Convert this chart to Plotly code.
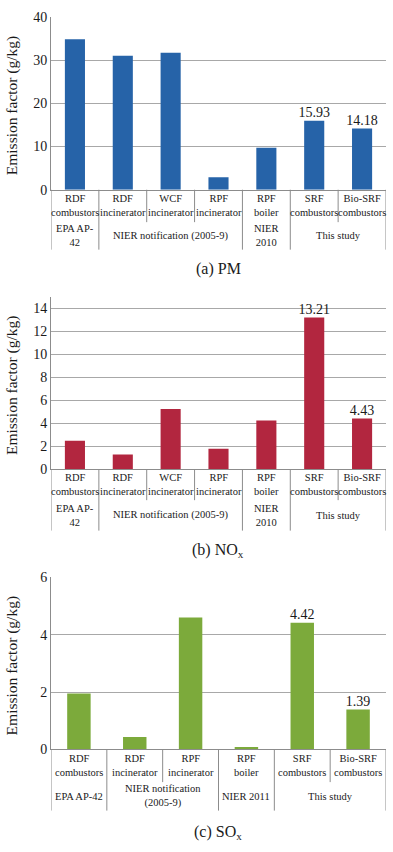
import plotly.graph_objects as go

W, H = 393, 852

# ---------------- data ----------------
pm_categories = ["RDF<br>combustors", "RDF<br>incinerator", "WCF<br>incinerator",
                 "RPF<br>incinerator", "RPF<br>boiler", "SRF<br>combustors",
                 "Bio-SRF<br>combustors"]
pm_values = [34.8, 31.0, 31.7, 2.9, 9.7, 15.93, 14.18]
pm_labelled = [False, False, False, False, False, True, True]
pm_groups = ["EPA AP-<br>42", "NIER notification (2005-9)", "NIER<br>2010", "This study"]
pm_group_spans = [(0, 0), (1, 3), (4, 4), (5, 6)]

nox_categories = pm_categories
nox_values = [2.5, 1.3, 5.25, 1.8, 4.25, 13.21, 4.43]
nox_labelled = [False, False, False, False, False, True, True]
nox_groups = pm_groups
nox_group_spans = pm_group_spans

sox_categories = ["RDF<br>combustors", "RDF<br>incinerator", "RPF<br>incinerator",
                  "RPF<br>boiler", "SRF<br>combustors", "Bio-SRF<br>combustors"]
sox_values = [1.95, 0.43, 4.6, 0.08, 4.42, 1.39]
sox_labelled = [False, False, False, False, True, True]
sox_groups = ["EPA AP-42", "NIER notification<br>(2005-9)", "NIER 2011", "This study"]
sox_group_spans = [(0, 0), (1, 2), (3, 3), (4, 5)]

y_ticks_pm = [0, 10, 20, 30, 40]
y_ticks_nox = [0, 2, 4, 6, 8, 10, 12, 14]
y_ticks_sox = [0, 2, 4, 6]

panel_titles = ["(a) PM", "(b) NO<sub>x</sub>", "(c) SO<sub>x</sub>"]
y_title = "Emission factor (g/kg)"

# ---------------- layout (pixels) ----------------
FONT = "Liberation Serif"
GRID = "#a8a8a8"
LINE = "#8c8c8c"
TXT = "#1a1a1a"
X_LEFT, X_RIGHT = 51, 386

panels = [
    dict(cats=pm_categories, vals=pm_values, lab=pm_labelled, groups=pm_groups,
         spans=pm_group_spans, ticks=y_ticks_pm, ymax=40, color="#2663a8",
         top=10, bottom=186, row1=219, row2=247, title_y=267),
    dict(cats=nox_categories, vals=nox_values, lab=nox_labelled, groups=nox_groups,
         spans=nox_group_spans, ticks=y_ticks_nox, ymax=15, color="#b2263f",
         top=295, bottom=470.7, row1=502, row2=533, title_y=553),
    dict(cats=sox_categories, vals=sox_values, lab=sox_labelled, groups=sox_groups,
         spans=sox_group_spans, ticks=y_ticks_sox, ymax=6, color="#7caa3b",
         top=580.7, bottom=755.7, row1=789, row2=818, title_y=840),
]


def py(px):
    return 1 - px / H


fig = go.Figure()
annotations = []
shapes = []

for k, p in enumerate(panels):
    sfx = "" if k == 0 else str(k + 1)
    xa, ya = "x" + sfx, "y" + sfx
    n = len(p["cats"])
    idx = list(range(n))
    fig.add_trace(go.Bar(
        x=idx, y=p["vals"], xaxis=xa, yaxis=ya, width=0.42,
        marker=dict(color=p["color"], line=dict(width=0)),
        hoverinfo="skip", showlegend=False,
    ))
    lx = [i for i, s in zip(idx, p["lab"]) if s]
    lv = [v for v, s in zip(p["vals"], p["lab"]) if s]
    fig.add_trace(go.Scatter(
        x=lx, y=lv, xaxis=xa, yaxis=ya, mode="text",
        text=[f"{v:.2f}" for v in lv], textposition="top center", cliponaxis=False,
        textfont=dict(family=FONT, size=14, color=TXT),
        hoverinfo="skip", showlegend=False,
    ))
    fig.layout["xaxis" + sfx] = dict(
        domain=[X_LEFT / W, X_RIGHT / W], range=[-0.5, n - 0.5],
        showticklabels=False, showgrid=False, zeroline=False,
        showline=True, linecolor=LINE, linewidth=1, ticks="",
        anchor=ya, fixedrange=True,
    )
    fig.layout["yaxis" + sfx] = dict(
        domain=[py(p["bottom"]), py(p["top"])], range=[0, p["ymax"]],
        tickvals=p["ticks"], ticktext=[str(t) for t in p["ticks"]],
        showgrid=True, gridcolor=GRID, gridwidth=1, zeroline=False,
        showline=True, linecolor=LINE, linewidth=1, ticks="",
        tickfont=dict(family=FONT, size=14, color=TXT),
        anchor=xa, fixedrange=True,
    )
    # category labels (row 1)
    r1 = (p["bottom"] + p["row1"]) / 2
    for i, c in enumerate(p["cats"]):
        annotations.append(dict(
            x=i, y=py(r1), xref=xa, yref="paper", text=c, showarrow=False,
            xanchor="center", yanchor="middle",
            font=dict(family=FONT, size=10.5, color=TXT)))
    # group labels (row 2)
    r2 = (p["row1"] + p["row2"]) / 2
    group_start = set()
    for g, (a, b) in zip(p["groups"], p["spans"]):
        group_start.add(a)
        annotations.append(dict(
            x=(a + b) / 2, y=py(r2), xref=xa, yref="paper", text=g, showarrow=False,
            xanchor="center", yanchor="middle",
            font=dict(family=FONT, size=10.5, color=TXT)))
    # dividers
    for i in range(n + 1):
        full = (i in group_start) or i == n
        y_end = p["row2"] if full else p["row1"]
        shapes.append(dict(
            type="line", xref=xa, yref="paper", x0=i - 0.5, x1=i - 0.5,
            y0=py(p["bottom"]), y1=py(y_end), line=dict(color=LINE, width=1)))
    # y-axis title
    annotations.append(dict(
        x=12 / W, y=py((p["top"] + p["bottom"]) / 2 + 3), xref="paper", yref="paper",
        text=y_title, textangle=-90, showarrow=False,
        xanchor="center", yanchor="middle",
        font=dict(family=FONT, size=15.5, color=TXT)))
    # panel title
    annotations.append(dict(
        x=(X_LEFT + X_RIGHT) / 2 / W, y=py(p["title_y"]), xref="paper", yref="paper",
        text=panel_titles[k], showarrow=False, xanchor="center", yanchor="middle",
        font=dict(family=FONT, size=16, color=TXT)))

fig.update_layout(
    width=W, height=H, margin=dict(l=0, r=0, t=0, b=0),
    paper_bgcolor="white", plot_bgcolor="white",
    annotations=annotations, shapes=shapes, bargap=0.58,
)

fig.write_html(
    "out.html",
    config={"displayModeBar": False},
    post_script="document.body.style.margin='0';document.body.style.overflow='hidden';",
)
